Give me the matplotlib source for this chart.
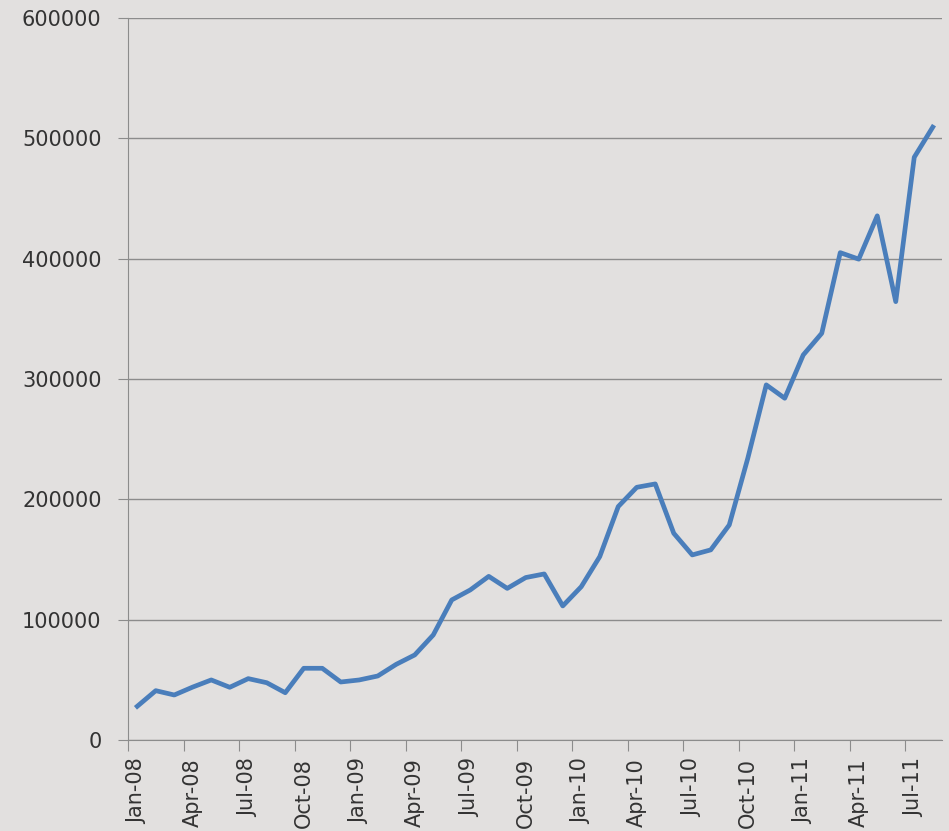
import numpy as np
import matplotlib.pyplot as plt

# monthly values, Jan-08 .. Aug-11
months = ['Jan-08', 'Feb-08', 'Mar-08', 'Apr-08', 'May-08', 'Jun-08', 'Jul-08', 'Aug-08',
          'Sep-08', 'Oct-08', 'Nov-08', 'Dec-08', 'Jan-09', 'Feb-09', 'Mar-09', 'Apr-09',
          'May-09', 'Jun-09', 'Jul-09', 'Aug-09', 'Sep-09', 'Oct-09', 'Nov-09', 'Dec-09',
          'Jan-10', 'Feb-10', 'Mar-10', 'Apr-10', 'May-10', 'Jun-10', 'Jul-10', 'Aug-10',
          'Sep-10', 'Oct-10', 'Nov-10', 'Dec-10', 'Jan-11', 'Feb-11', 'Mar-11', 'Apr-11',
          'May-11', 'Jun-11', 'Jul-11', 'Aug-11']
values = [28000, 41000, 37400, 44000, 49900, 43800, 51000, 47600,
          39300, 59600, 59600, 48200, 49900, 53200, 62900, 70700,
          87300, 116400, 124700, 136000, 126000, 135000, 138000, 111400,
          127400, 152400, 194000, 210000, 212800, 171800, 153800, 158000,
          178700, 234000, 295100, 284000, 320000, 338000, 405000, 399600,
          435600, 364300, 484300, 509300]

bg = '#e2e0df'
grid_col = '#8c8c8c'
txt_col = '#333333'

fig = plt.figure(figsize=(9.49, 8.31), dpi=100, facecolor=bg)
ax = fig.add_axes([128 / 949, 1 - 740 / 831, (942 - 128) / 949, (740 - 18) / 831])
ax.set_facecolor(bg)

x = np.arange(len(values))
ax.plot(x, values, color='#4a7ebb', lw=3.4, solid_joinstyle='round', zorder=3)

ax.set_xlim(-0.5, len(values) - 0.5)
ax.set_ylim(0, 600000)
ax.set_yticks(np.arange(0, 600001, 100000))
ax.grid(axis='y', color=grid_col, lw=1)
ax.tick_params(axis='y', length=7, color=grid_col, labelsize=15, labelcolor=txt_col, pad=12)

# tick marks between categories, labels on category centres
ax.set_xticks(np.arange(-0.5, len(values) - 1, 3))
ax.set_xticklabels([])
ax.tick_params(axis='x', which='major', length=8, color=grid_col)
ax.set_xticks(x[::3], minor=True)
ax.set_xticklabels(months[::3], minor=True, rotation=90, va='top', ha='center')
ax.tick_params(axis='x', which='minor', length=0, labelsize=15, labelcolor=txt_col, pad=13)

for s in ['top', 'right']:
    ax.spines[s].set_visible(False)
for s in ['left', 'bottom']:
    ax.spines[s].set_color(grid_col)

fig.savefig('out.png', dpi=100, facecolor=bg)
